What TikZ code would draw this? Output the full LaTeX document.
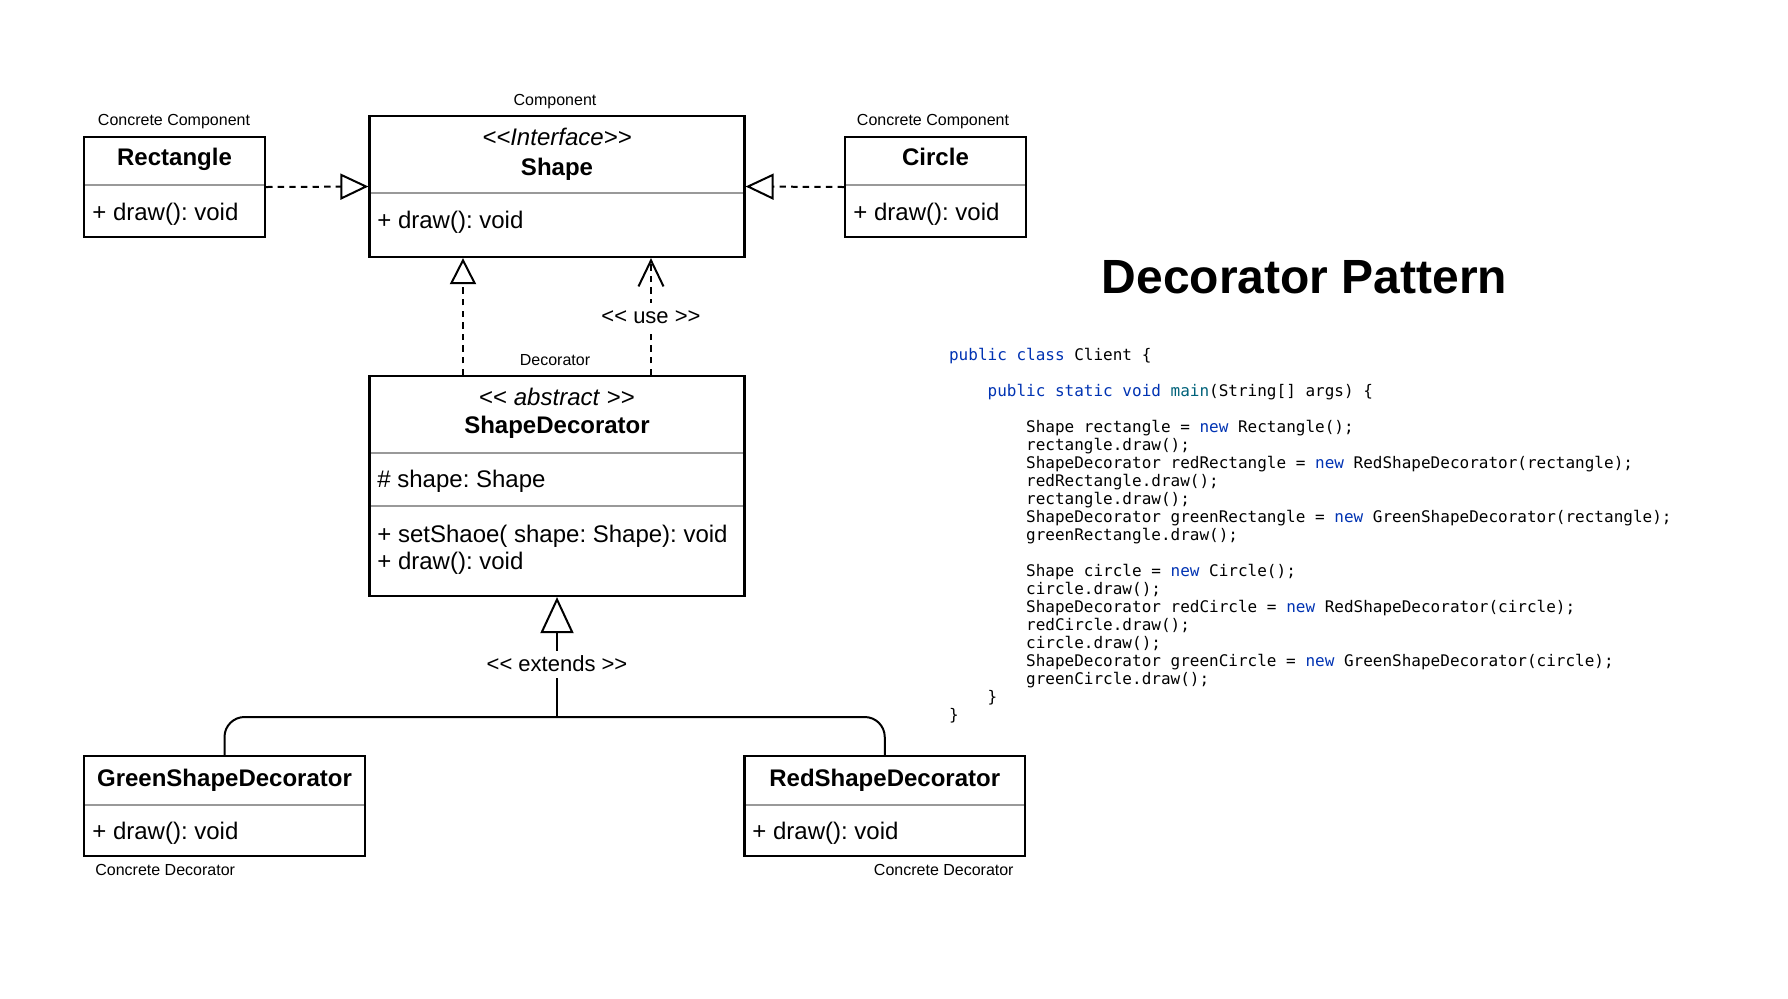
\documentclass[tikz,border=0pt]{standalone}
\usepackage{fontspec}
\setmainfont{Liberation Sans}
\newfontfamily\codefont{DejaVu Sans Mono}
\usetikzlibrary{arrows.meta}
\definecolor{kw}{HTML}{0033B3}
\definecolor{fn}{HTML}{00627A}
\definecolor{sepgray}{HTML}{999999}
\begin{document}
\frenchspacing
\begin{tikzpicture}[x=0.5pt,y=-0.5pt,
  box/.style={draw, line width=1.1pt, inner sep=0pt},
  sep/.style={draw=sepgray, line width=1.1pt},
  cname/.style={font=\fontsize{12}{14}\selectfont\bfseries, text height=8.6pt, text depth=0pt, inner sep=0pt},
  stereo/.style={font=\fontsize{12}{14}\selectfont, text height=8.6pt, text depth=0pt, inner sep=0pt},
  member/.style={font=\fontsize{12}{14}\selectfont, anchor=west, text height=8.6pt, text depth=0pt, inner sep=0pt},
  small/.style={font=\fontsize{8}{10}\selectfont, text height=5.7pt, text depth=0pt, inner sep=0pt},
  lbl/.style={font=\fontsize{11}{13}\selectfont, text height=7.9pt, text depth=0pt, inner sep=2.8pt, fill=white},
  dep/.style={line width=1pt, dash pattern=on 3.2pt off 2.6pt},
  realize/.style={dep, -{Triangle[open, length=14pt, width=13pt, line width=1pt]}},
  realizeup/.style={dep, -{Triangle[open, length=13pt, width=13pt, line width=1pt]}},
  uses/.style={dep, -{Straight Barb[length=13pt, width=12.5pt, line width=1pt]}},
  gen/.style={line width=1pt},
]
\path[fill=white] (0,0) rectangle (1788,998);

% separators (drawn first, under the box borders)
\draw[sep] (84,185) -- (265,185);
\draw[sep] (369.5,193) -- (744.5,193);
\draw[sep] (845,185) -- (1026,185);
\draw[sep] (369.5,453) -- (744.5,453);
\draw[sep] (369.5,506) -- (744.5,506);
\draw[sep] (84,805) -- (365,805);
\draw[sep] (744.5,805) -- (1025,805);

% boxes
\node[box, minimum width=90.5pt, minimum height=50pt] (rect) at (174.5,187) {};
\node[box, minimum width=187.5pt, minimum height=70.5pt] (shape) at (557,186.5) {};
\node[box, minimum width=90.5pt, minimum height=50pt] (circle) at (935.5,187) {};
\node[box, minimum width=187.5pt, minimum height=110pt] (deco) at (557,486) {};
\node[box, minimum width=140.5pt, minimum height=50pt] (green) at (224.5,806) {};
\node[box, minimum width=140.25pt, minimum height=50pt] (red) at (884.75,806) {};

% Rectangle
\node[cname] (rectT) at (174.5,157) {Rectangle};
\node[member] (rectM) at (92,212) {+ draw(): void};
\node[small] (rectL) at (174,120) {Concrete Component};

% Shape
\node[stereo] (shapeS) at (557,137) {\textit{<{}<Interface>{}>}};
\node[cname] (shapeT) at (557,166.5) {Shape};
\node[member] (shapeM) at (377,220) {+ draw(): void};
\node[small] (shapeL) at (555,100) {Component};

% Circle
\node[cname] (circT) at (935.5,157) {Circle};
\node[member] (circM) at (853,212) {+ draw(): void};
\node[small] (circL) at (933,120) {Concrete Component};

% ShapeDecorator
\node[stereo] (decoS) at (557,397) {<{}< \textit{abstract} >{}>};
\node[cname] (decoT) at (557,425) {ShapeDecorator};
\node[member] (decoA) at (377,479) {\# shape: Shape};
\node[member] (decoM1) at (377,534) {+ setShaoe( shape: Shape): void};
\node[member] (decoM2) at (377,561) {+ draw(): void};
\node[small] (decoL) at (555,360) {Decorator};

% Green / Red
\node[cname] (greenT) at (224.5,778) {GreenShapeDecorator};
\node[member] (greenM) at (92,831) {+ draw(): void};
\node[small, anchor=west] (greenL) at (95,870) {Concrete Decorator};
\node[cname] (redT) at (884.75,778) {RedShapeDecorator};
\node[member] (redM) at (752,831) {+ draw(): void};
\node[small, anchor=east] (redL) at (1014,870) {Concrete Decorator};

% connectors
\draw[realize] (rect.east) -- (shape.west);
\draw[realize] (circle.west) -- (shape.east);
\coordinate (dx1) at (463,0);
\coordinate (dx2) at (651,0);
\draw[realizeup] (deco.north -| dx1) -- (shape.south -| dx1);
\draw[uses] (deco.north -| dx2) -- (shape.south -| dx2);
\node[lbl] (useL) at (651,316) {<{}< use >{}>};

\coordinate (junc) at (557,717);
\draw[gen, rounded corners=10pt] (green.north) |- (junc) -| (red.north);
\draw[gen, -{Triangle[open, length=18pt, width=16.5pt, line width=1pt]}] (junc) -- (deco.south);
\node[lbl] (extL) at (557,664) {<{}< extends >{}>};

% title
\node[font=\fontsize{24}{28}\selectfont\bfseries, inner sep=0pt] (title) at (1304.5,277) {Decorator Pattern};

% code
\node[anchor=north west, inner sep=0pt, align=left, font=\fontsize{8}{9}\selectfont\codefont] (code) at (948.7,347.4) {%
\strut\textcolor{kw}{public class} Client \{\\
\strut\\
\phantom{xxxx}\textcolor{kw}{public static void} \textcolor{fn}{main}(String[] args) \{\\
\strut\\
\phantom{xxxxxxxx}Shape rectangle = \textcolor{kw}{new} Rectangle();\\
\phantom{xxxxxxxx}rectangle.draw();\\
\phantom{xxxxxxxx}ShapeDecorator redRectangle = \textcolor{kw}{new} RedShapeDecorator(rectangle);\\
\phantom{xxxxxxxx}redRectangle.draw();\\
\phantom{xxxxxxxx}rectangle.draw();\\
\phantom{xxxxxxxx}ShapeDecorator greenRectangle = \textcolor{kw}{new} GreenShapeDecorator(rectangle);\\
\phantom{xxxxxxxx}greenRectangle.draw();\\
\strut\\
\phantom{xxxxxxxx}Shape circle = \textcolor{kw}{new} Circle();\\
\phantom{xxxxxxxx}circle.draw();\\
\phantom{xxxxxxxx}ShapeDecorator redCircle = \textcolor{kw}{new} RedShapeDecorator(circle);\\
\phantom{xxxxxxxx}redCircle.draw();\\
\phantom{xxxxxxxx}circle.draw();\\
\phantom{xxxxxxxx}ShapeDecorator greenCircle = \textcolor{kw}{new} GreenShapeDecorator(circle);\\
\phantom{xxxxxxxx}greenCircle.draw();\\
\phantom{xxxx}\}\\
\}};
\end{tikzpicture}
\end{document}
